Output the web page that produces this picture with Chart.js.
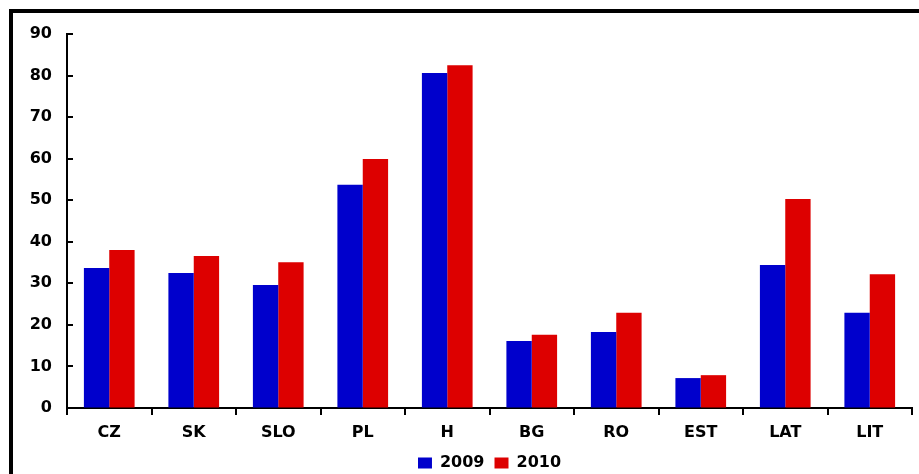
<!DOCTYPE html>
<html lang="en">
  <head>
    <meta charset="UTF-8" />
    <title>2009 / 2010</title>
    <script src="https://cdn.jsdelivr.net/npm/chart.js"></script>
    <style>
      html, body {
        margin: 0;
        padding: 0;
        background: #fff;
        overflow: hidden;
        width: 919px;
        height: 474px;
      }
      .frame {
        position: absolute;
        left: 9px;
        top: 9px;
        width: 1000px;
        height: 520px;
        border: 4px solid #000;
      }
      .wrap {
        position: absolute;
        left: 13px;
        top: 13px;
        width: 954px;
        height: 468px;
      }
    </style>
  </head>
  <body>
    <div class="frame"></div>
    <div class="wrap"><canvas id="chart"></canvas></div>

    <script>
      const countries = ["CZ", "SK", "SLO", "PL", "H", "BG", "RO", "EST", "LAT", "LIT"];
      const values2009 = [33.7, 32.5, 29.6, 53.7, 80.6, 16.1, 18.3, 7.2, 34.4, 22.9];
      const values2010 = [38.0, 36.6, 35.1, 59.9, 82.5, 17.6, 22.9, 7.9, 50.3, 32.2];
      const yTicks = [0, 10, 20, 30, 40, 50, 60, 70, 80, 90];

      const labelFont = { family: "DejaVu Sans", size: 16, weight: "bold" };

      // y tick marks point into the plot
      const innerTicks = {
        id: "innerTicks",
        afterDraw(chart) {
          const y = chart.scales.y;
          const ctx = chart.ctx;
          ctx.save();
          ctx.strokeStyle = "#000";
          ctx.lineWidth = 2;
          ctx.beginPath();
          yTicks.forEach((v) => {
            const py = Math.round(y.getPixelForValue(v));
            ctx.moveTo(y.right - 1, py);
            ctx.lineTo(y.right + 6, py);
          });
          ctx.stroke();
          ctx.restore();
        },
      };

      new Chart(document.getElementById("chart"), {
        type: "bar",
        data: {
          labels: countries,
          datasets: [
            {
              label: "2009",
              data: values2009,
              backgroundColor: "#0000cc",
              categoryPercentage: 0.6,
              barPercentage: 1,
            },
            {
              label: "2010",
              data: values2010,
              backgroundColor: "#dd0000",
              categoryPercentage: 0.6,
              barPercentage: 1,
            },
          ],
        },
        options: {
          responsive: true,
          maintainAspectRatio: false,
          animation: false,
          layout: { padding: { top: 21, right: 55, left: 0, bottom: 0 } },
          plugins: {
            tooltip: { enabled: false },
            legend: {
              position: "bottom",
              fullSize: false,
              labels: {
                boxWidth: 14,
                boxHeight: 11,
                padding: 10,
                color: "#000",
                font: labelFont,
              },
            },
          },
          scales: {
            x: {
              afterFit: (s) => { s.height = 37; },
              border: { color: "#000", width: 2 },
              grid: {
                offset: true,
                drawOnChartArea: false,
                color: "#000",
                lineWidth: 2,
                tickLength: 7,
              },
              ticks: { color: "#000", font: labelFont, padding: 8 },
            },
            y: {
              min: 0,
              max: 90,
              afterFit: (s) => {
                s.width = 54;
                s.paddingTop = 0;
                s.paddingBottom = 0;
              },
              afterBuildTicks: (s) => { s.ticks = yTicks.map((v) => ({ value: v })); },
              border: { color: "#000", width: 2 },
              grid: {
                drawOnChartArea: false,
                drawTicks: false,
              },
              ticks: { color: "#000", font: labelFont, padding: 15 },
            },
          },
        },
        plugins: [innerTicks],
      });
    </script>
  </body>
</html>
